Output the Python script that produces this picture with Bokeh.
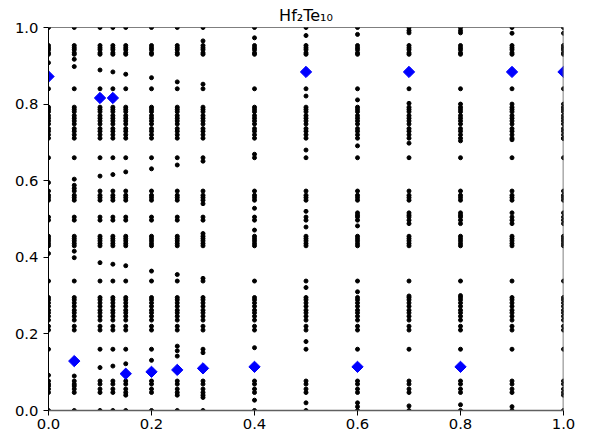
from bokeh.plotting import figure
from bokeh.models import Range1d, FixedTicker, PrintfTickFormatter, ColumnDataSource, Span
from bokeh.embed import file_html
from bokeh.resources import INLINE
import math

# k-point columns
col_x = [0.0, 0.05, 0.1, 0.125, 0.15, 0.2, 0.25, 0.3, 0.4, 0.5, 0.6, 0.7, 0.8, 0.9, 1.0]

# levels present in every column
common_y = [1.0, 0.953, 0.947, 0.942, 0.934, 0.930,
            0.840,
            0.792, 0.786, 0.780, 0.770, 0.763, 0.756, 0.748, 0.736, 0.729, 0.720, 0.711,
            0.660,
            0.573, 0.562, 0.556, 0.549,
            0.505, 0.497,
            0.455, 0.449, 0.443, 0.436, 0.430,
            0.338,
            0.295, 0.289, 0.281, 0.272, 0.262, 0.255, 0.246, 0.236, 0.220, 0.210,
            0.077, 0.069, 0.056, 0.047,
            0.0]

# column-specific levels
extra_000 = [0.908, 0.595, 0.410, 0.160, 0.092, 0.064]
extra_005 = [0.917, 0.898, 0.604, 0.588, 0.580, 0.416, 0.399, 0.090, 0.064]
extra_010 = [0.889, 0.612, 0.386, 0.160, 0.112]
extra_0125 = [0.884, 0.616, 0.382, 0.160, 0.116]
extra_015 = [0.878, 0.623, 0.378, 0.160, 0.122, 0.040]
extra_020 = [0.869, 0.631, 0.364, 0.160, 0.131]
extra_025 = [0.858, 0.641, 0.355, 0.168, 0.156, 0.142, 0.040]
extra_030 = [0.965, 0.852, 0.651, 0.540, 0.462, 0.345, 0.160, 0.151, 0.040, 0.034]
extra_040 = [0.973, 0.669, 0.528, 0.471, 0.164, 0.027]
extra_050 = [0.979, 0.821, 0.680, 0.520, 0.479, 0.321, 0.180, 0.160, 0.020]
extra_060 = [0.982, 0.811, 0.691, 0.516, 0.510, 0.482, 0.310, 0.160, 0.020, 0.010]
extra_070 = [0.992, 0.986, 0.802, 0.698, 0.516, 0.510, 0.488, 0.299, 0.160, 0.012]
extra_080 = [0.992, 0.986, 0.800, 0.704, 0.516, 0.510, 0.488, 0.300, 0.160, 0.015]
extra_090 = [0.985, 0.800, 0.707, 0.516, 0.488, 0.160, 0.010]
extra_100 = [0.985, 0.800, 0.710, 0.516, 0.488, 0.160, 0.040]

extras = [extra_000, extra_005, extra_010, extra_0125, extra_015, extra_020, extra_025,
          extra_030, extra_040, extra_050, extra_060, extra_070, extra_080, extra_090, extra_100]

# highlighted points (blue diamonds)
hi_x = [0.0, 0.1, 0.125, 0.5, 0.7, 0.9, 1.0, 0.05, 0.15, 0.2, 0.25, 0.3, 0.4, 0.6, 0.8]
hi_y = [0.872, 0.816, 0.816, 0.884, 0.884, 0.884, 0.884, 0.129, 0.096, 0.101, 0.106, 0.110, 0.114, 0.114, 0.114]

tick_vals = [0.0, 0.2, 0.4, 0.6, 0.8, 1.0]

xs, ys = [], []
for cx, ex in zip(col_x, extras):
    for yv in common_y + ex:
        xs.append(cx)
        ys.append(yv)

dots = ColumnDataSource(dict(x=xs, y=ys))
dia = ColumnDataSource(dict(x=hi_x, y=hi_y))

p = figure(width=587, height=436, x_range=Range1d(0, 1), y_range=Range1d(0, 1),
           output_backend="svg", toolbar_location=None, title="Hf₂Te₁₀",
           min_border_left=48, min_border_right=24, min_border_top=27, min_border_bottom=26)
p.title.align = "center"
p.title.text_font = "DejaVu Sans"
p.title.text_font_size = "16px"
p.title.text_font_style = "normal"
p.title.text_color = "black"
p.title.standoff = 6

p.xgrid.visible = False
p.ygrid.visible = False
p.outline_line_color = None
p.background_fill_color = "white"
p.border_fill_color = "white"

for ax in (p.xaxis[0], p.yaxis[0]):
    ax.ticker = FixedTicker(ticks=tick_vals)
    ax.formatter = PrintfTickFormatter(format="%.1f")
    ax.major_tick_out = 5
    ax.major_tick_in = 0
    ax.minor_tick_out = 0
    ax.minor_tick_in = 0
    ax.major_tick_line_color = "black"
    ax.major_label_text_font = "DejaVu Sans"
    ax.major_label_text_font_size = "14.8px"
    ax.major_label_text_color = "black"

p.yaxis[0].axis_line_color = "black"
p.yaxis[0].major_label_standoff = 5
p.xaxis[0].axis_line_color = "#606060"
p.xaxis[0].axis_line_width = 1.6
p.xaxis[0].major_label_standoff = 3

p.add_layout(Span(location=1.0, dimension="width", line_color="black", line_width=1))
p.add_layout(Span(location=1.0, dimension="height", line_color="#606060", line_width=1.6))

p.scatter("x", "y", source=dots, size=4, marker="circle", color="black")
p.scatter("x", "y", source=dia, size=8, marker="square", angle=math.pi / 4,
          color="#0000ff")

open("out.html", "w").write(file_html(p, INLINE))
